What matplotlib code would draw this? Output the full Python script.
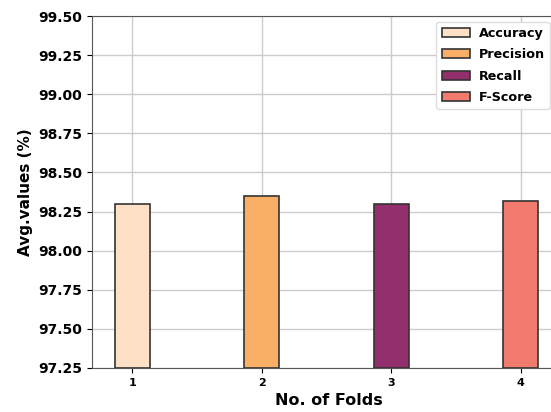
import matplotlib.pyplot as plt

folds = [1, 2, 3, 4]
metrics = ['Accuracy', 'Precision', 'Recall', 'F-Score']
avg_values = [98.30, 98.35, 98.30, 98.32]
colors = ['#FDE0C5', '#F9B066', '#922F6C', '#F07B6E']

fig = plt.figure(figsize=(5.51, 4.12), dpi=100)
ax = fig.add_axes([0.167, 0.107, 0.86, 0.854])

for x, y, name, c in zip(folds, avg_values, metrics, colors):
    ax.bar(x, y - 97.25, bottom=97.25, width=0.27, color=c,
           edgecolor='#333333', linewidth=1.2, label=name, zorder=3)

ax.set_ylim(97.25, 99.5)
ax.set_xlim(0.69, 4.35)
ax.set_yticks([97.25, 97.5, 97.75, 98.0, 98.25, 98.5, 98.75, 99.0, 99.25, 99.5])
ax.set_yticklabels(['%.2f' % v for v in ax.get_yticks()], fontsize=10, fontweight='bold')
ax.set_xticks(folds)
ax.set_xticklabels([str(f) for f in folds], fontsize=8, fontweight='bold')
ax.grid(True, color='#cccccc', linewidth=1.0, zorder=0)
ax.set_axisbelow(True)

ax.set_xlabel('No. of Folds', fontsize=11.5, fontweight='bold')
ax.set_ylabel('Avg.values (%)', fontsize=11, fontweight='bold')

for s in ax.spines.values():
    s.set_color('#555555')

# legend pinned near the top right corner of the figure
ax.legend(loc='upper left', bbox_to_anchor=(0.792, 0.947),
          bbox_transform=fig.transFigure, borderaxespad=0,
          prop={'weight': 'bold', 'size': 9.2}, handlelength=2.2,
          labelspacing=0.65, handletextpad=0.7,
          framealpha=1, edgecolor='#dddddd')

fig.savefig('out.png', dpi=100)
